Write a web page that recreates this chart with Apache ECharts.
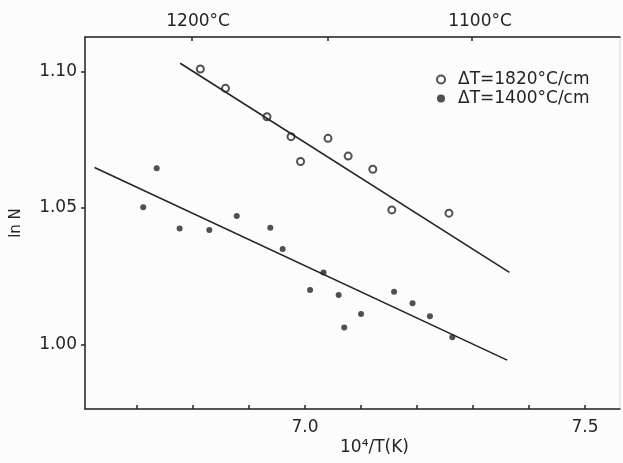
<!DOCTYPE html>
<html>
<head>
<meta charset="utf-8">
<script src="https://cdn.jsdelivr.net/npm/echarts@6/dist/echarts.min.js"></script>
<style>
  html, body { margin: 0; padding: 0; background: #fcfcfc; }
  #chart { width: 623px; height: 463px; }
</style>
</head>
<body>
<div id="chart"></div>
<script>
// ΔT = 1820 °C/cm (open circles)
const hotX = [6.813, 6.858, 6.932, 6.975, 6.992, 7.041, 7.077, 7.121, 7.155, 7.257];
const hotY = [1.1009, 1.0938, 1.0834, 1.0761, 1.0670, 1.0755, 1.0690, 1.0642, 1.0493, 1.0481];
// ΔT = 1400 °C/cm (filled dots)
const coolX = [6.711, 6.735, 6.776, 6.829, 6.878, 6.938, 6.960, 7.009, 7.033, 7.060, 7.070, 7.100, 7.159, 7.192, 7.223, 7.263];
const coolY = [1.0503, 1.0645, 1.0425, 1.0419, 1.0471, 1.0428, 1.0350, 1.0200, 1.0264, 1.0181, 1.0062, 1.0112, 1.0193, 1.0151, 1.0104, 1.0027];
// fitted lines (end points)
const fitHotX = [6.777, 7.365];
const fitHotY = [1.1030, 1.0264];
const fitCoolX = [6.624, 7.361];
const fitCoolY = [1.0648, 0.9943];
// axes
const bottomTicks = [6.7, 6.8, 6.9, 7.0, 7.1, 7.2, 7.3, 7.4, 7.5];
const bottomLabels = [7.0, 7.5];
const yTicks = [1.00, 1.05, 1.10];
const topTicks = [6.798, 7.041, 7.298];
const topLabelPos = [6.809, 7.3125];
const topLabelText = ['1200°C', '1100°C'];

const ink = '#242424';
const font = 'DejaVu Sans';
const zip = (xs, ys) => xs.map((x, i) => [x, ys[i]]);

var chart = echarts.init(document.getElementById('chart'));
var option = {
  backgroundColor: '#fcfcfc',
  animation: false,
  grid: { left: 85, right: 3, top: 37, bottom: 54, show: true, borderColor: '#d8d8d8', borderWidth: 1 },
  legend: {
    orient: 'vertical',
    left: 431,
    top: 66,
    itemWidth: 8,
    itemHeight: 8,
    itemGap: 2,
    textStyle: { color: ink, fontSize: 17, fontFamily: font, padding: [0, 0, 0, 8] },
    data: [
      { name: 'ΔT=1820°C/cm', icon: 'emptyCircle' },
      { name: 'ΔT=1400°C/cm', icon: 'circle' }
    ]
  },
  xAxis: [
    {
      type: 'value',
      position: 'bottom',
      min: 6.607,
      max: 7.5625,
      axisLine: { lineStyle: { color: ink, width: 1.5 } },
      axisTick: { inside: true, length: 4, customValues: bottomTicks, lineStyle: { color: ink, width: 1.5 } },
      axisLabel: {
        customValues: bottomLabels,
        formatter: v => v.toFixed(1),
        color: ink, fontSize: 17, fontFamily: font, margin: 10
      },
      splitLine: { show: false }
    },
    {
      type: 'value',
      position: 'top',
      min: 6.607,
      max: 7.5625,
      axisLine: { lineStyle: { color: ink, width: 1.5 } },
      axisTick: { inside: true, length: 4, customValues: topTicks, lineStyle: { color: ink, width: 1.5 } },
      axisLabel: {
        customValues: topLabelPos,
        formatter: v => topLabelText[v < 7 ? 0 : 1],
        color: ink, fontSize: 17, fontFamily: font, margin: 7
      },
      splitLine: { show: false }
    }
  ],
  yAxis: {
    type: 'value',
    min: 0.9764,
    max: 1.1126,
    name: 'ln N',
    nameLocation: 'middle',
    nameGap: 61,
    nameTextStyle: { color: ink, fontSize: 15, fontFamily: font },
    axisLine: { lineStyle: { color: ink, width: 1.5 } },
    axisTick: { length: 4, customValues: yTicks, lineStyle: { color: ink, width: 1.5 } },
    axisLabel: {
      customValues: yTicks,
      formatter: v => v.toFixed(2),
      color: ink, fontSize: 17, fontFamily: font, margin: 8
    },
    splitLine: { show: false }
  },
  graphic: [
    {
      type: 'text',
      left: 340,
      top: 439,
      style: { text: '10⁴/T(K)', fill: ink, font: '17px "DejaVu Sans"' }
    }
  ],
  series: [
    {
      name: 'ΔT=1820°C/cm',
      type: 'scatter',
      symbol: 'emptyCircle',
      symbolSize: 7,
      itemStyle: { color: ink, borderColor: ink, borderWidth: 1.5 },
      data: zip(hotX, hotY)
    },
    {
      name: 'ΔT=1400°C/cm',
      type: 'scatter',
      symbol: 'circle',
      symbolSize: 6,
      itemStyle: { color: ink },
      data: zip(coolX, coolY)
    },
    {
      name: 'fit1820',
      type: 'line',
      showSymbol: false,
      lineStyle: { color: ink, width: 1.6 },
      data: zip(fitHotX, fitHotY)
    },
    {
      name: 'fit1400',
      type: 'line',
      showSymbol: false,
      lineStyle: { color: ink, width: 1.6 },
      data: zip(fitCoolX, fitCoolY)
    }
  ]
};
chart.setOption(option);
</script>
</body>
</html>
